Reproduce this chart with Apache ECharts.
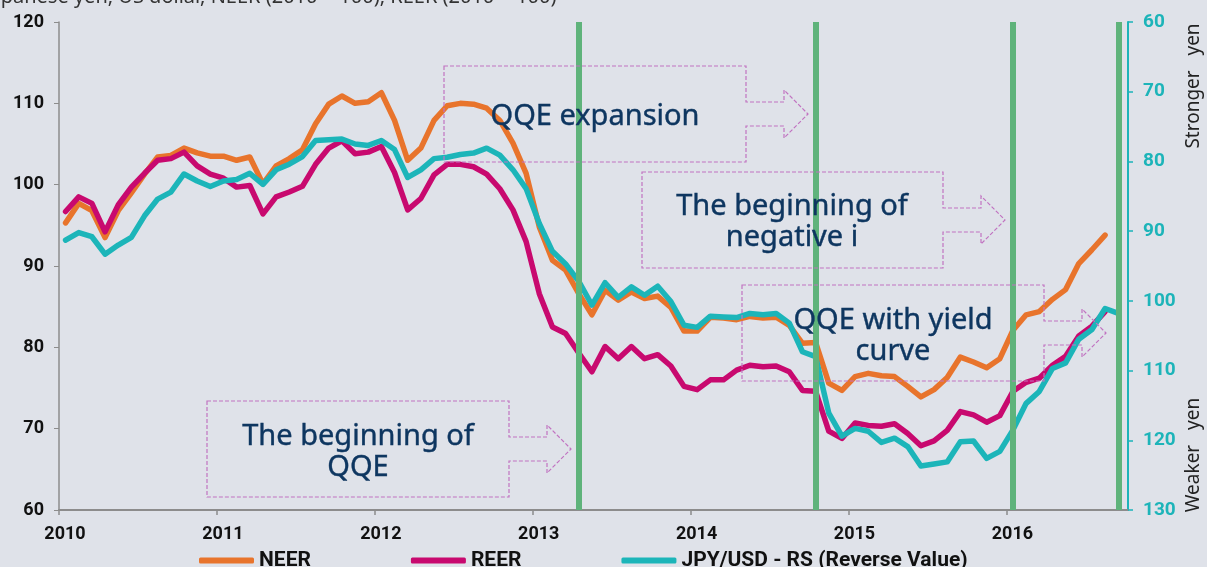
<!DOCTYPE html>
<html>
<head>
<meta charset="utf-8">
<script src="https://cdn.jsdelivr.net/npm/echarts@6/dist/echarts.min.js"></script>
<style>
  html, body { margin: 0; padding: 0; background: #dfe2e9; }
  #container { width: 1207px; height: 567px; }
</style>
</head>
<body>
<div id="container"></div>
<script>
// monthly series, first point = Jan 2010
const startYear = 2010;
const neer = [
  95.3, 97.7, 96.8, 93.5, 96.8, 99.0, 101.3, 103.4, 103.6, 104.5, 103.9, 103.5,
  103.5, 103.0, 103.4, 100.1, 102.3, 103.2, 104.3, 107.5, 109.9, 110.9, 110.0, 110.2,
  111.3, 107.9, 103.0, 104.5, 107.9, 109.7, 110.0, 109.9, 109.4, 107.9, 105.1, 101.4,
  94.8, 90.7, 89.5, 86.6, 84.0, 87.0, 85.8, 86.8, 86.0, 86.3, 84.9, 82.0,
  82.0, 83.7, 83.6, 83.4, 83.8, 83.6, 83.7, 82.7, 80.5, 80.6, 75.6, 74.7,
  76.4, 76.8, 76.5, 76.4, 75.2, 73.9, 74.8, 76.3, 78.8, 78.2, 77.5, 78.6,
  82.1, 84.0, 84.4, 85.9, 87.1, 90.3, 92.0, 93.8
];
const reer = [
  96.7, 98.5, 97.7, 94.2, 97.5, 99.7, 101.4, 103.0, 103.2, 104.0, 102.3, 101.3,
  100.8, 99.7, 99.9, 96.4, 98.5, 99.1, 99.8, 102.5, 104.5, 105.4, 103.8, 104.0,
  104.7, 101.5, 96.9, 98.3, 101.2, 102.5, 102.5, 102.2, 101.3, 99.5, 96.9, 93.0,
  86.6, 82.5, 81.7, 79.3, 77.0, 80.1, 78.6, 80.1, 78.6, 79.1, 77.7, 75.2,
  74.8, 76.0, 76.0, 77.2, 77.8, 77.6, 77.7, 77.0, 74.7, 74.6, 69.7, 68.8,
  70.7, 70.4, 70.3, 70.6, 69.4, 67.9, 68.5, 69.8, 72.1, 71.7, 70.8, 71.6,
  74.6, 75.7, 76.2, 77.8, 78.9, 81.4, 82.6, 84.4
];
// yen per dollar, plotted on the reversed right axis
const jpyusd = [
  91.3, 90.2, 90.8, 93.3, 92.0, 90.9, 87.8, 85.4, 84.4, 81.8, 82.8, 83.6,
  82.8, 82.6, 81.7, 83.3, 81.2, 80.4, 79.3, 77.0, 76.9, 76.8, 77.5, 77.7,
  77.0, 78.3, 82.3, 81.2, 79.6, 79.4, 79.0, 78.8, 78.1, 79.1, 81.2, 83.9,
  88.9, 92.9, 94.7, 97.2, 100.6, 97.4, 99.5, 98.0, 99.2, 97.9, 100.1, 103.5,
  103.8, 102.2, 102.3, 102.4, 101.8, 102.0, 101.8, 103.2, 107.3, 108.0, 116.1, 119.4,
  118.3, 118.7, 120.3, 119.7, 120.9, 123.7, 123.4, 123.1, 120.2, 120.1, 122.6, 121.6,
  118.5, 114.7, 113.0, 109.7, 108.9, 105.5, 104.1, 101.1, 101.8
];
// BoJ policy events (month)
const eventMonths = ['2013-04', '2014-10', '2016-01', '2016-09'];
const yearTicks = [2010, 2011, 2012, 2013, 2014, 2015, 2016];

const monthPos = i => startYear + (i + 0.5) / 12;
const ymPos = s => { const [y, m] = s.split('-').map(Number); return y + (m - 0.5) / 12; };
const pairs = arr => arr.map((v, i) => [monthPos(i), v]);

const navy = '#0e3660';
const dash = '#c173c1';

function callout(x0, y0, x1, y1) {
  const cy = (y0 + y1) / 2;
  return {
    type: 'polygon',
    z: 10,
    shape: { points: [
      [x0, y0], [x1, y0], [x1, cy - 12], [x1 + 38, cy - 12], [x1 + 38, cy - 24],
      [x1 + 62, cy], [x1 + 38, cy + 24], [x1 + 38, cy + 12], [x1, cy + 12], [x1, y1], [x0, y1]
    ] },
    style: { fill: 'none', stroke: dash, lineWidth: 1.2, lineDash: [4, 2] }
  };
}
function label(cx, cy, text) {
  return {
    type: 'text', z: 11, x: cx, y: cy + 3,
    style: {
      text: text, align: 'center', verticalAlign: 'middle', lineHeight: 31,
      fontFamily: 'Noto Sans', fontSize: 29, fill: navy,
      stroke: navy, lineWidth: 0.4
    }
  };
}

const myChart = echarts.init(document.getElementById('container'));
const option = {
  backgroundColor: '#dfe2e9',
  animation: false,
  grid: { left: 59, right: 79, top: 22, bottom: 57 },
  legend: {
    data: ['NEER', 'REER', 'JPY/USD - RS (Reverse Value)'],
    left: 199, top: 550, padding: 0,
    icon: 'roundRect', itemWidth: 55, itemHeight: 6, itemGap: 100,
    textStyle: { fontFamily: 'Roboto', fontWeight: 'bold', fontSize: 21, color: '#111' }
  },
  xAxis: {
    type: 'value', min: 2010, max: 2016.77, interval: 1,
    axisLine: { lineStyle: { color: '#8c8c8c', width: 2 } },
    axisTick: { length: 5, lineStyle: { color: '#8c8c8c', width: 1.5 } },
    axisLabel: {
      showMaxLabel: false, margin: 15, padding: [0, 0, 0, 12],
      fontFamily: 'Roboto', fontWeight: 'bold', fontSize: 18, color: '#111',
      formatter: v => yearTicks.includes(Math.round(v * 1000) / 1000) ? String(v) : ''
    },
    splitLine: { show: false }
  },
  yAxis: [
    {
      type: 'value', min: 60, max: 120, interval: 10, position: 'left',
      axisLine: { show: true, lineStyle: { color: '#8c8c8c', width: 1.5 } },
      axisTick: { show: true, length: 5, lineStyle: { color: '#8c8c8c' } },
      axisLabel: { margin: 15, fontFamily: 'Roboto', fontWeight: 'bold', fontSize: 18, color: '#111' },
      splitLine: { show: false }
    },
    {
      type: 'value', min: 60, max: 130, interval: 10, position: 'right', inverse: true,
      axisLine: { show: true, lineStyle: { color: '#1db4b9', width: 2 } },
      axisTick: { show: true, length: 5, lineStyle: { color: '#1db4b9', width: 1.5 } },
      axisLabel: { margin: 15, fontFamily: 'Roboto', fontWeight: 'bold', fontSize: 19, color: '#1db4b9' },
      splitLine: { show: false }
    }
  ],
  graphic: [
    {
      type: 'text', x: -16, y: -13,
      style: { text: 'Japanese yen, US dollar, NEER (2010 = 100), REER (2010 = 100)',
        fontFamily: 'Noto Sans', fontSize: 20, fill: '#333' }
    },
    {
      type: 'text', x: 1194, y: 86, rotation: Math.PI / 2,
      style: { text: 'Stronger   yen', align: 'center', verticalAlign: 'middle',
        fontFamily: 'Noto Sans', fontSize: 19, fill: '#222' }
    },
    {
      type: 'text', x: 1194, y: 455, rotation: Math.PI / 2,
      style: { text: 'Weaker   yen', align: 'center', verticalAlign: 'middle',
        fontFamily: 'Noto Sans', fontSize: 19, fill: '#222' }
    },
    callout(444, 66, 746, 162),
    label(595, 114, 'QQE expansion'),
    callout(642, 172, 943, 268),
    label(792, 219, 'The beginning of\nnegative i'),
    callout(742, 285, 1044, 381),
    label(893, 333, 'QQE with yield\ncurve'),
    callout(207, 401, 509, 497),
    label(358, 449, 'The beginning of\nQQE')
  ],
  series: [
    {
      name: 'NEER', type: 'line', data: pairs(neer), showSymbol: false, z: 3,
      itemStyle: { color: '#e8742c' },
      lineStyle: { color: '#e8742c', width: 5.5, cap: 'round', join: 'round' }
    },
    {
      name: 'REER', type: 'line', data: pairs(reer), showSymbol: false, z: 3,
      itemStyle: { color: '#c8096f' },
      lineStyle: { color: '#c8096f', width: 5.5, cap: 'round', join: 'round' }
    },
    {
      name: 'JPY/USD - RS (Reverse Value)', type: 'line', yAxisIndex: 1,
      data: pairs(jpyusd), showSymbol: false, z: 4,
      itemStyle: { color: '#1cb5b9' },
      lineStyle: { color: '#1cb5b9', width: 5.5, cap: 'round', join: 'round' }
    },
    {
      name: 'events', type: 'line', data: [], z: 20,
      markLine: {
        symbol: 'none', silent: true, label: { show: false },
        lineStyle: { color: '#5fb37b', width: 6, type: 'solid' },
        data: eventMonths.map(m => ({ xAxis: ymPos(m) }))
      }
    }
  ]
};
myChart.setOption(option);
window.addEventListener('resize', () => {
    myChart.resize()
})
</script>
</body>
</html>
